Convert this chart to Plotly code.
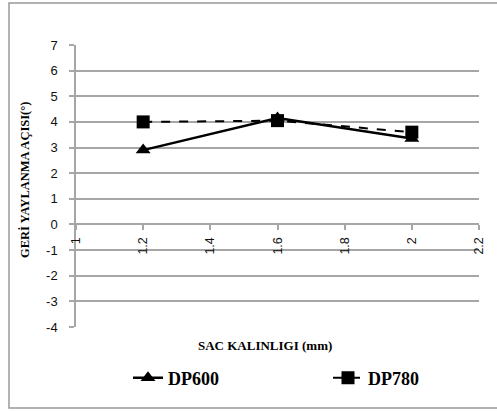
import plotly.graph_objects as go

thickness = [1.2, 1.6, 2.0]
dp600 = [2.9, 4.15, 3.35]
dp780 = [4.0, 4.05, 3.6]
x_ticks = [1, 1.2, 1.4, 1.6, 1.8, 2, 2.2]
y_ticks = [-4, -3, -2, -1, 0, 1, 2, 3, 4, 5, 6, 7]

serif = "Liberation Serif"
sans = "Liberation Sans"
grid = "#a6a6a6"

fig = go.Figure()
fig.add_trace(go.Scatter(
    x=thickness, y=dp600, name="DP600", mode="lines+markers",
    line=dict(color="black", width=2.5),
    marker=dict(symbol="triangle-up", size=13, color="black"),
    legend="legend",
))
fig.add_trace(go.Scatter(
    x=thickness, y=dp780, name="DP780", mode="lines+markers",
    line=dict(color="black", width=2, dash="dash"),
    marker=dict(symbol="square", size=13, color="black"),
    legend="legend2",
))

legend_font = dict(family=serif, size=18, color="black", weight="bold")

fig.update_layout(
    width=497, height=412,
    margin=dict(l=76, r=18, t=45, b=85),
    paper_bgcolor="white", plot_bgcolor="white",
    showlegend=True,
    legend=dict(orientation="h", x=(128 - 76) / 403, y=-0.181, xanchor="left",
                yanchor="middle", font=legend_font, bgcolor="rgba(0,0,0,0)"),
    legend2=dict(orientation="h", x=(328 - 76) / 403, y=-0.181, xanchor="left",
                 yanchor="middle", font=legend_font, bgcolor="rgba(0,0,0,0)"),
    xaxis=dict(range=[1, 2.2], tickvals=x_ticks, ticktext=[str(v) for v in x_ticks],
               anchor="free", position=4/11, showgrid=False, zeroline=False,
               showline=True, linecolor=grid, linewidth=1.5,
               ticks="outside", ticklen=5, tickcolor=grid, tickwidth=1.5,
               ticklabelstandoff=2,
               tickangle=-90, tickfont=dict(family=sans, size=12.5, color="#111")),
    yaxis=dict(range=[-4, 7], tickvals=y_ticks, ticktext=[str(v) for v in y_ticks],
               showgrid=True, gridcolor=grid,
               gridwidth=1.5, zeroline=False, showline=True, linecolor=grid,
               linewidth=1.5, ticks="outside", ticklen=5, tickcolor=grid,
               tickwidth=1.5, ticklabelstandoff=9,
               tickfont=dict(family=sans, size=13, color="#111")),
    annotations=[
        dict(text="GERİ YAYLANMA AÇISI(°)", xref="paper", yref="paper",
             x=(25 - 76) / 403, y=(327 - 180) / 282, textangle=-90, showarrow=False,
             font=dict(family=serif, size=12.5, color="black", weight="bold"),
             xanchor="center", yanchor="middle"),
        dict(text="SAC KALINLIGI (mm)", xref="paper", yref="paper",
             x=(265 - 76) / 403, y=(327 - 345) / 282, showarrow=False,
             font=dict(family=serif, size=13, color="black", weight="bold"),
             xanchor="center", yanchor="middle"),
    ],
    shapes=[dict(type="rect", xref="paper", yref="paper",
                 x0=(9 - 76) / 403, x1=(505 - 76) / 403,
                 y0=(327 - 408) / 282, y1=(327 - 3) / 282,
                 line=dict(color="#999999", width=1.5), layer="below")],
)

fig.write_html("out.html")
